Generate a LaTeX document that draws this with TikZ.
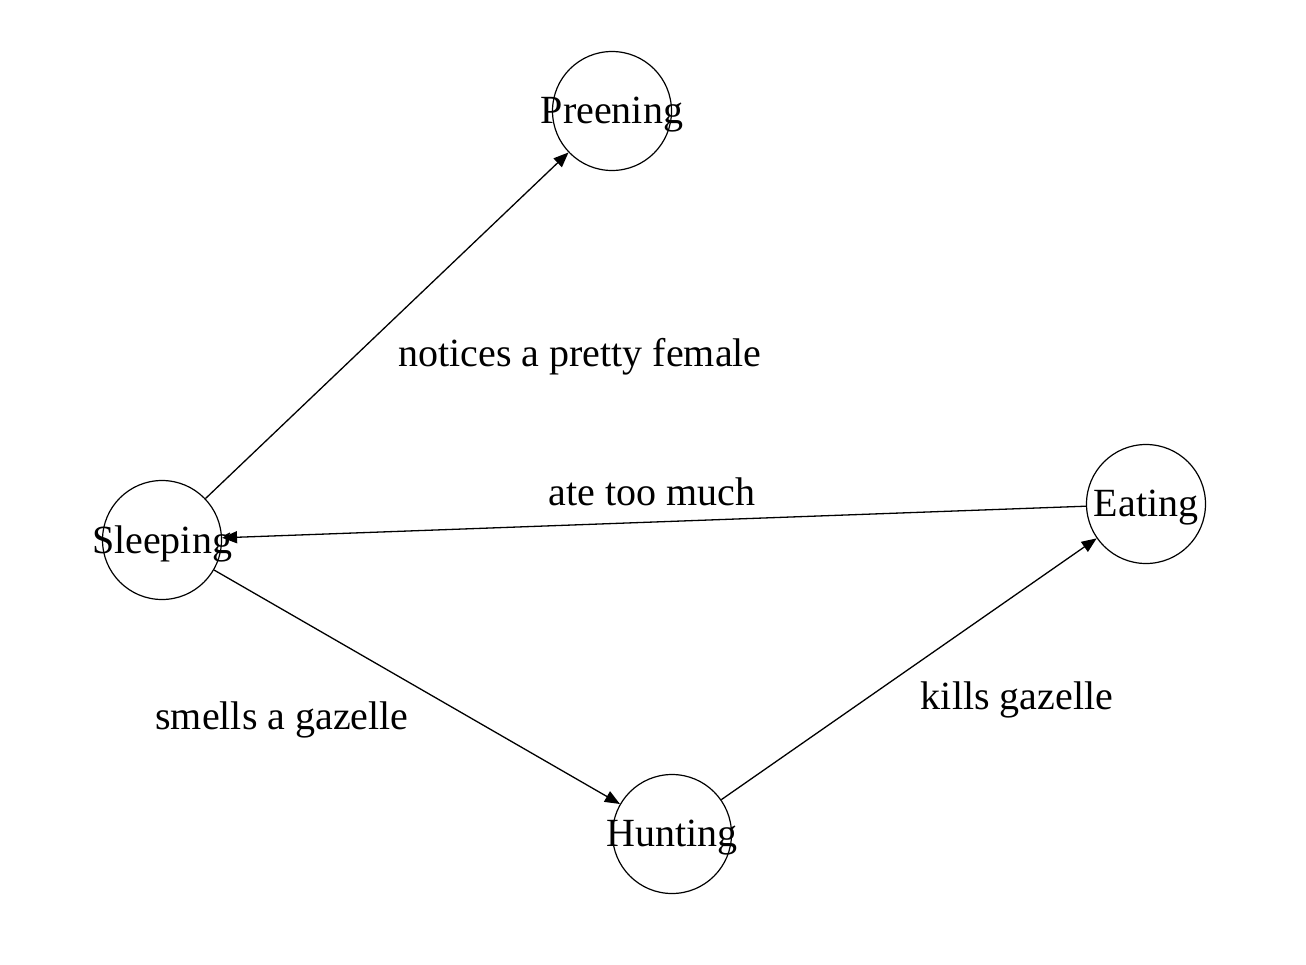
\documentclass[tikz,border=0pt]{standalone}
\usepackage{fontspec}
\setmainfont{Liberation Serif}
\usetikzlibrary{arrows.meta}
\begin{document}
\begin{tikzpicture}[x=1pt,y=-1pt,
  state/.style={circle,draw,line width=1.2pt,minimum size=119pt,inner sep=0pt,
    label={[font=\fontsize{40}{48}\selectfont,inner sep=0pt,yshift=-4pt]center:#1}},
  lbl/.style={font=\fontsize{40}{48}\selectfont,inner sep=0pt},
  conn/.style={line width=1.3pt,-{Triangle[length=15pt,width=12pt]}}]
\useasboundingbox (0,0) rectangle (1306,964);
\node[state=Preening] (P) at (612,111) {};
\node[state=Sleeping] (S) at (162,540) {};
\node[state=Eating] (E) at (1146,504) {};
\node[state=Hunting] (H) at (672,834) {};
\draw[conn] (S) -- (P);
\draw[conn] (E) -- (S);
\draw[conn] (S) -- (H);
\draw[conn] (H) -- (E);
\node[lbl] (l1) at (580,357) {notices a pretty female};
\node[lbl] (l2) at (652,492) {ate too much};
\node[lbl] (l3) at (282,720) {smells a gazelle};
\node[lbl] (l4) at (1017,700) {kills gazelle};
\end{tikzpicture}
\end{document}
